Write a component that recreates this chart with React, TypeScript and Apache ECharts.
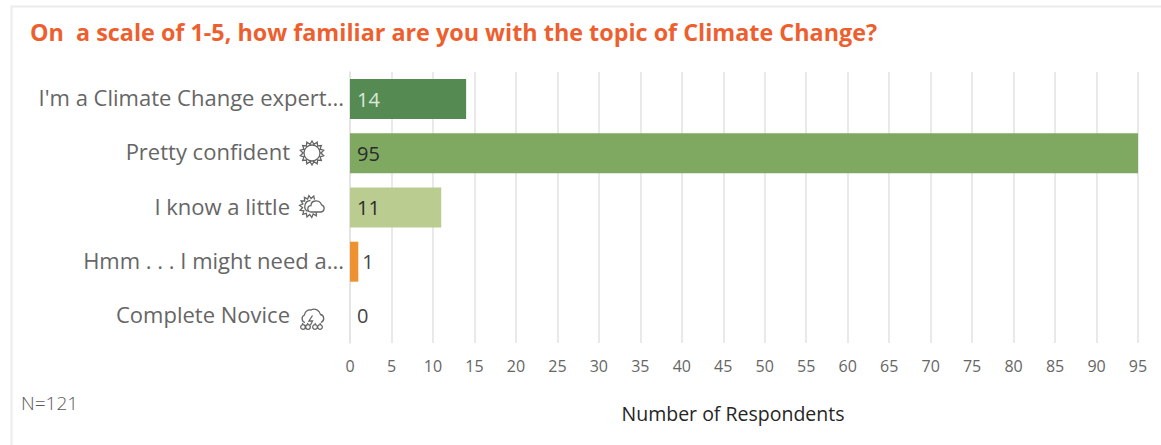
import React, { useEffect, useRef } from "react";
import * as echarts from "echarts";

const titleText = "On  a scale of 1-5, how familiar are you with the topic of Climate Change?";
const categories = ["I'm a Climate Change expert...", "Pretty confident", "I know a little", "Hmm . . . I might need a...", "Complete Novice"];
const values = [14, 95, 11, 1, 0];
const barColors = ["#558A52", "#7FA960", "#BBCC91", "#EE9130", "#CCCCCC"];
const labelColors = ["#DDE8DA", "#2B2B2B", "#2B2B2B", "#444444", "#444444"];
const labelOutside = [false, false, false, true, true];
const labelGaps = [7, 7, 7, 4, 7];
const iconRows = [false, true, true, false, true];
const noteText = "N=121";
const axisTitle = "Number of Respondents";

const FONT = '"Open Sans", sans-serif';

function zigzag(cx: number, cy: number, ro: number, ri: number, n: number, from = 0, to = Math.PI * 2, close = true) {
  let d = "";
  for (let i = 0; i <= n * 2 - (close ? 1 : 0); i++) {
    const r = i % 2 === 0 ? ri : ro;
    const a = from + ((to - from) * i) / (n * 2);
    d += (i === 0 ? "M" : "L") + (cx + r * Math.cos(a)).toFixed(2) + " " + (cy + r * Math.sin(a)).toFixed(2);
  }
  return d + (close ? "Z" : "");
}
function circle(cx: number, cy: number, r: number) {
  return `M${cx - r} ${cy}A${r} ${r} 0 1 1 ${cx + r} ${cy}A${r} ${r} 0 1 1 ${cx - r} ${cy}Z`;
}
const sunPath = zigzag(12, 12, 12, 9, 14) + circle(12, 12, 8);
const partlyPath =
  zigzag(10.5, 11.5, 11, 8, 10, -Math.PI / 3, -Math.PI * 1.75, false) +
  "M7.5 16.5A6 6 0 0 1 10.5 5.5" +
  "M11 17A3.2 3.2 0 0 1 11 10.6A4.6 4.6 0 0 1 15 6A5.6 5.6 0 0 1 21.5 9.8A3.7 3.7 0 0 1 21 17Z";
const stormPath =
  "M5 15.5A4 4 0 0 1 4.5 8A5.5 5.5 0 0 1 11 3A6.5 6.5 0 0 1 20.5 7.5A4.2 4.2 0 0 1 21 15.5" +
  "M12.5 8.5L9 14L12.5 14L10.5 18" +
  circle(3, 20, 2.3) + circle(8, 20, 2.3) + circle(15, 20, 2.3) + circle(20, 20, 2.3) +
  "M2.5 16L3 17.8M7.5 16L8 17.8M15 16L15.5 17.8M20 16L20.5 17.8";

echarts.graphic.registerShape("iconSun", echarts.graphic.extendPath(sunPath, {}) as any);
echarts.graphic.registerShape("iconPartly", echarts.graphic.extendPath(partlyPath, {}) as any);
echarts.graphic.registerShape("iconStorm", echarts.graphic.extendPath(stormPath, {}) as any);

const iconStyle = { fill: "none", stroke: "#666666", lineWidth: 1.3 };

export default function App() {
  const ref = useRef<HTMLDivElement>(null);
  useEffect(() => {
    const chart = echarts.init(ref.current!, null, { renderer: "svg" });
    chart.setOption({
      animation: false,
      backgroundColor: "#ffffff",
      title: {
        text: titleText,
        left: 25,
        top: 15,
        textStyle: { fontFamily: FONT, fontWeight: 700, fontSize: 23.35, color: "#EE5F30" },
      },
      grid: { left: 350, right: 23, top: 72, bottom: 102 },
      xAxis: {
        type: "value",
        min: 0,
        max: 95,
        interval: 5,
        name: axisTitle,
        nameLocation: "middle",
        nameGap: 60,
        nameTextStyle: { fontFamily: FONT, fontSize: 19.5, color: "#262626", padding: [0, 22, 0, 0] },
        axisLine: { show: false },
        axisTick: { show: false },
        axisLabel: { fontFamily: FONT, fontSize: 16, color: "#666666", margin: 15 },
        splitLine: { show: true, lineStyle: { color: "#E2E2E2", width: 1.5 } },
      },
      yAxis: {
        type: "category",
        inverse: true,
        data: categories,
        axisLine: { show: true, lineStyle: { color: "#E2E2E2", width: 1.5 } },
        axisTick: { show: false },
        axisLabel: {
          margin: 6,
          padding: [0, 0, 4, 0],
          formatter: (v: string, i: number) => (iconRows[i] ? `{t|${v}}{g|}` : `{t|${v}}`),
          rich: {
            t: { fontFamily: FONT, fontSize: 22, color: "#666666" },
            g: { width: 54, height: 10 },
          },
        },
      },
      series: [
        {
          type: "bar",
          barWidth: 40,
          data: values.map((v, i) => ({
            value: v,
            itemStyle: { color: barColors[i] },
            label: {
              show: true,
              position: labelOutside[i] ? "right" : "insideLeft",
              distance: labelGaps[i],
              fontFamily: FONT,
              fontSize: 20,
              color: labelColors[i],
            },
          })),
        },
      ],
      graphic: [
        { type: "rect", z: -1, shape: { x: 11.5, y: 6.5, width: 1170, height: 460 }, style: { fill: "none", stroke: "#EBEBEB", lineWidth: 2 } },
        { type: "iconSun", x: 300, y: 141, style: iconStyle },
        { type: "iconPartly", x: 300, y: 195, style: iconStyle },
        { type: "iconStorm", x: 300, y: 307, style: iconStyle },
        { type: "text", x: 21, y: 393, style: { text: noteText, fontFamily: FONT, fontSize: 19, fontWeight: 300, fill: "#5A5A5A" } },
      ],
    });
    return () => chart.dispose();
  }, []);
  return <div ref={ref} style={{ position: "fixed", left: 0, top: 0, width: 1161, height: 445 }} />;
}
